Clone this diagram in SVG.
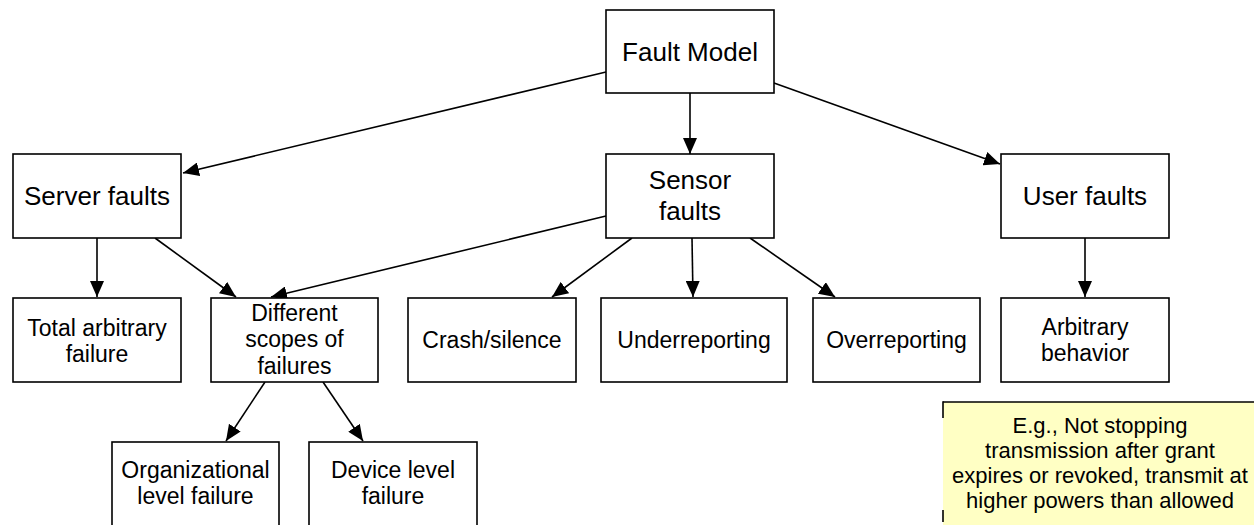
<svg xmlns="http://www.w3.org/2000/svg" width="1254" height="525" viewBox="0 0 1254 525">
<defs>
<marker id="arr" markerUnits="userSpaceOnUse" markerWidth="16" markerHeight="14" refX="16" refY="7" orient="auto">
<path d="M0,0 L16,7 L0,14 z" fill="#000"/>
</marker>
<style>
.box{fill:#fff;stroke:#000;stroke-width:1.6}
.t{font-family:"Liberation Sans",Arial,sans-serif;fill:#000;text-anchor:middle}
.big{font-size:26px}
.sm{font-size:23px}
.note{font-size:22px}
.c{stroke:#000;stroke-width:1.6;fill:none;marker-end:url(#arr)}
</style>
</defs>
<rect width="1254" height="525" fill="#fff"/>
<g id="connectors">
<line class="c" x1="606" y1="72" x2="183" y2="173"/>
<line class="c" x1="690" y1="93" x2="690" y2="154"/>
<line class="c" x1="774" y1="83" x2="1000" y2="164"/>
<line class="c" x1="97" y1="238" x2="97" y2="297"/>
<line class="c" x1="155" y1="238" x2="236" y2="297"/>
<line class="c" x1="606" y1="216" x2="271" y2="297"/>
<line class="c" x1="632" y1="238" x2="552" y2="297"/>
<line class="c" x1="692" y1="238" x2="693" y2="297"/>
<line class="c" x1="750" y1="238" x2="835" y2="297"/>
<line class="c" x1="1085" y1="238" x2="1085" y2="297"/>
<line class="c" x1="265" y1="382" x2="226" y2="441"/>
<line class="c" x1="323" y1="382" x2="363" y2="441"/>
</g>
<g id="fault-model">
<rect class="box" x="606" y="10" width="168" height="83"/>
<text class="t big" x="690" y="61">Fault Model</text>
</g>
<g id="server-faults">
<rect class="box" x="13" y="154" width="168" height="84"/>
<text class="t big" x="97" y="205">Server faults</text>
</g>
<g id="sensor-faults">
<rect class="box" x="606" y="154" width="168" height="84"/>
<text class="t big" x="690" y="189">Sensor</text>
<text class="t big" x="690" y="220">faults</text>
</g>
<g id="user-faults">
<rect class="box" x="1001" y="154" width="168" height="84"/>
<text class="t big" x="1085" y="205">User faults</text>
</g>
<g id="total-arbitrary">
<rect class="box" x="13" y="298" width="168" height="84"/>
<text class="t sm" x="97" y="336">Total arbitrary</text>
<text class="t sm" x="97" y="362">failure</text>
</g>
<g id="different-scopes">
<rect class="box" x="211" y="298" width="167" height="84"/>
<text class="t sm" x="294.5" y="321">Different</text>
<text class="t sm" x="294.5" y="347">scopes of</text>
<text class="t sm" x="294.5" y="374">failures</text>
</g>
<g id="crash-silence">
<rect class="box" x="408" y="298" width="168" height="84"/>
<text class="t sm" x="492" y="348">Crash/silence</text>
</g>
<g id="underreporting">
<rect class="box" x="601" y="298" width="186" height="84"/>
<text class="t sm" x="694" y="348">Underreporting</text>
</g>
<g id="overreporting">
<rect class="box" x="813" y="298" width="167" height="84"/>
<text class="t sm" x="896.5" y="348">Overreporting</text>
</g>
<g id="arbitrary-behavior">
<rect class="box" x="1001" y="298" width="168" height="84"/>
<text class="t sm" x="1085" y="335">Arbitrary</text>
<text class="t sm" x="1085" y="361">behavior</text>
</g>
<g id="organizational">
<rect class="box" x="112" y="442" width="167" height="95"/>
<text class="t sm" x="195.5" y="478">Organizational</text>
<text class="t sm" x="195.5" y="504">level failure</text>
</g>
<g id="device-level">
<rect class="box" x="309" y="442" width="168" height="95"/>
<text class="t sm" x="393" y="478">Device level</text>
<text class="t sm" x="393" y="504">failure</text>
</g>
<g id="note">
<rect x="943" y="402" width="320" height="140" fill="#ffffc4"/>
<line x1="943" y1="402" x2="1254" y2="402" stroke="#000" stroke-width="1.6"/>
<line x1="943" y1="401.2" x2="943" y2="418" stroke="#000" stroke-width="1.6"/>
<line x1="943" y1="510" x2="943" y2="522" stroke="#000" stroke-width="1.6"/>
<text class="t note" x="1100" y="433">E.g., Not stopping</text>
<text class="t note" x="1100" y="458">transmission after grant</text>
<text class="t note" x="1100" y="483">expires or revoked, transmit at</text>
<text class="t note" x="1100" y="508">higher powers than allowed</text>
</g>
</svg>
